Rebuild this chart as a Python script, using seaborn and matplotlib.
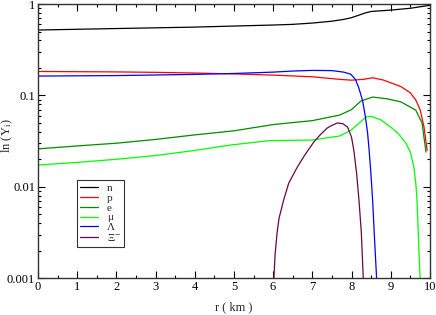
import numpy as np
import pandas as pd
import matplotlib
matplotlib.use("Agg")
import matplotlib.pyplot as plt
import seaborn as sns
from matplotlib.ticker import LogLocator, FixedLocator, MultipleLocator, NullFormatter

# values (r in km, Y_i)
r_n = [0, 1, 2, 3, 4, 5, 6, 6.5, 7, 7.5, 7.8, 8.0, 8.2, 8.35, 8.5, 9.0, 9.5, 10]
y_n = [0.52, 0.53, 0.54, 0.55, 0.56, 0.575, 0.59, 0.60, 0.62, 0.65, 0.68, 0.71, 0.76, 0.80, 0.83, 0.86, 0.90, 0.97]

r_p = [0, 1, 2, 3, 4, 5, 6, 7, 7.7, 8.0, 8.3, 8.54, 8.8, 9.26, 9.5, 9.64, 9.75, 9.85, 9.93]
y_p = [0.183, 0.182, 0.181, 0.179, 0.176, 0.172, 0.167, 0.160, 0.150, 0.147, 0.150, 0.156, 0.148, 0.125, 0.107, 0.089, 0.070, 0.045, 0.025]

r_e = [0, 1, 2, 3, 4, 5, 6, 7, 7.7, 8.0, 8.24, 8.54, 8.9, 9.26, 9.64, 9.8, 9.9]
y_e = [0.026, 0.028, 0.030, 0.033, 0.037, 0.041, 0.048, 0.053, 0.061, 0.070, 0.087, 0.096, 0.092, 0.085, 0.069, 0.050, 0.024]

r_mu = [0, 1, 2, 3, 4, 4.9, 5.9, 7.0, 7.7, 8.0, 8.2, 8.37, 8.5, 8.75, 9.0, 9.2, 9.39, 9.5, 9.59, 9.64, 9.67, 9.69, 9.72, 9.75]
y_mu = [0.0173, 0.0185, 0.020, 0.022, 0.025, 0.0286, 0.032, 0.0325, 0.036, 0.042, 0.050, 0.058, 0.059, 0.054, 0.045, 0.038, 0.030, 0.024, 0.0165, 0.011, 0.0072, 0.0045, 0.002, 0.001]

r_lam = [0, 2, 4, 5, 6, 6.5, 7, 7.5, 7.8, 7.98, 8.1, 8.18, 8.28, 8.35, 8.41, 8.45, 8.49, 8.54, 8.58, 8.64]
y_lam = [0.163, 0.165, 0.170, 0.174, 0.180, 0.185, 0.188, 0.187, 0.180, 0.171, 0.150, 0.123, 0.089, 0.060, 0.039, 0.025, 0.015, 0.007, 0.0031, 0.001]

r_xi = [6.02, 6.05, 6.1, 6.15, 6.27, 6.4, 6.62, 6.8, 7.04, 7.2, 7.38, 7.5, 7.64, 7.78, 7.9, 8.0, 8.06, 8.13, 8.19, 8.25, 8.30]
y_xi = [0.001, 0.0018, 0.0031, 0.0045, 0.0072, 0.011, 0.0165, 0.022, 0.031, 0.037, 0.044, 0.047, 0.050, 0.049, 0.045, 0.035, 0.025, 0.014, 0.0072, 0.0032, 0.001]

labels = ["n", "p", "e", "μ", "Λ", r"Ξ$^{-}$"]
colors = ["black", "red", "#008b00", "#00ff00", "blue", "#670748"]
series = [(r_n, y_n), (r_p, y_p), (r_e, y_e), (r_mu, y_mu), (r_lam, y_lam), (r_xi, y_xi)]

sns.set_style("ticks")
plt.rcParams["font.family"] = ["Liberation Serif", "DejaVu Serif"]
plt.rcParams["mathtext.fontset"] = "stix"

fig = plt.figure(figsize=(4.36, 3.15), dpi=100)
ax = fig.add_axes([0.087, 0.117, 0.899, 0.870])

for (rx, yy), lab, col in zip(series, labels, colors):
    df = pd.DataFrame({"r": rx, "Y": yy})
    sns.lineplot(data=df, x="r", y="Y", ax=ax, color=col, label=lab,
                 linewidth=0.9, sort=False, estimator=None)

ax.set_yscale("log")
ax.set_xlim(0, 10)
ax.set_ylim(0.001, 1)
ax.xaxis.set_major_locator(MultipleLocator(1))
ax.xaxis.set_minor_locator(MultipleLocator(0.5))
ax.yaxis.set_major_locator(FixedLocator([0.001, 0.01, 0.1, 1]))
ax.set_yticklabels(["0.001", "0.01", "0.1", "1"])
ax.yaxis.set_minor_locator(LogLocator(base=10, subs=np.arange(2, 10)))
ax.yaxis.set_minor_formatter(NullFormatter())

ax.tick_params(which="both", direction="in", top=True, right=True,
               labelsize=9, width=0.8, colors="black", pad=2)
ax.tick_params(which="major", length=5)
ax.tick_params(which="minor", length=2.5)
for s in ax.spines.values():
    s.set_linewidth(1.0)
    s.set_color("#333333")

ax.set_xlabel("r ( km )", fontsize=9)
ax.set_ylabel(r"ln (Y$_{\rm i}$)", fontsize=9, va="center")
ax.xaxis.set_label_coords(0.5, -0.085)
ax.yaxis.set_label_coords(-0.079, 0.52)

leg = ax.legend(loc="upper left", bbox_to_anchor=(0.0995, 0.358), fontsize=8,
                frameon=True, fancybox=False, handlelength=1.6, handletextpad=0.8,
                labelspacing=0.0, borderpad=0.3, borderaxespad=0)
leg.get_frame().set_edgecolor("black")
leg.get_frame().set_linewidth(0.8)

fig.savefig("out.png", dpi=100)
